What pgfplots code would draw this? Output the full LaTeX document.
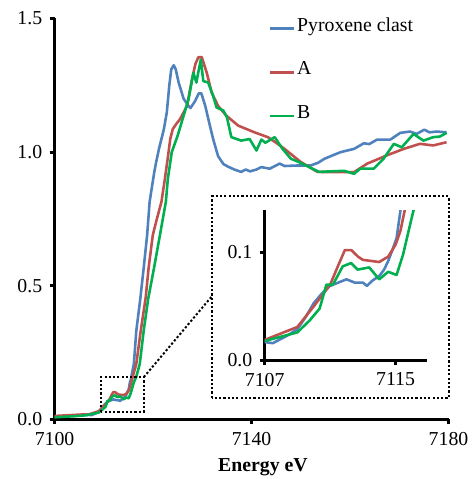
\documentclass[border=0pt]{standalone}
\usepackage{fontspec}
\setmainfont{Liberation Serif}
\usepackage{pgfplots}
\usepackage{pgfplotstable}
\pgfplotsset{compat=1.18}
\definecolor{cblue}{RGB}{79,129,189}
\definecolor{cred}{RGB}{192,80,77}
\definecolor{cgreen}{RGB}{0,176,80}

\pgfplotstableread{
E y
7100 0.010
7102 0.012
7104 0.014
7106 0.016
7107 0.017
7107.5 0.016
7108 0.020
7108.5 0.024
7109 0.029
7109.5 0.040
7110 0.053
7110.5 0.062
7111 0.069
7111.5 0.072
7112 0.075
7112.5 0.072
7113 0.072
7113.25 0.069
7113.6 0.074
7114 0.078
7114.3 0.084
7114.55 0.092
7114.8 0.102
7115.06 0.113
7115.3 0.139
7115.45 0.146
7116.1 0.208
7116.6 0.332
7117.4 0.450
7118.1 0.567
7118.8 0.690
7119.3 0.814
7120.2 0.920
7120.6 0.960
7121.2 1.012
7122.2 1.086
7122.8 1.150
7123.3 1.250
7123.7 1.310
7124.2 1.325
7124.6 1.310
7125.2 1.260
7126.2 1.200
7127.2 1.173
7127.6 1.165
7128.5 1.190
7129.3 1.220
7129.8 1.220
7130.6 1.173
7131.4 1.110
7132.2 1.049
7133.2 0.985
7134.3 0.955
7135.3 0.945
7136.5 0.935
7137.9 0.926
7138.8 0.935
7139.7 0.928
7141 0.935
7142 0.944
7143.7 0.938
7145.7 0.957
7146.7 0.948
7149.4 0.950
7152 0.950
7153.5 0.960
7154.8 0.975
7156.5 0.988
7158.1 1.000
7160.8 1.012
7162.8 1.033
7163.9 1.030
7165.5 1.047
7168.2 1.047
7170.2 1.072
7172.2 1.077
7173.5 1.068
7175.1 1.084
7176.1 1.074
7177.6 1.077
7179.6 1.074
}\tblP

\pgfplotstableread{
E y
7100 0.013
7102 0.015
7104 0.017
7106 0.019
7107 0.019
7108 0.025
7109 0.031
7110 0.050
7111 0.070
7111.5 0.088
7111.9 0.102
7112.3 0.102
7112.7 0.096
7113.0 0.093
7114.0 0.091
7114.55 0.096
7115.0 0.107
7115.3 0.120
7115.56 0.139
7116.6 0.208
7117.5 0.332
7118.5 0.455
7119.1 0.567
7119.95 0.690
7120.8 0.752
7121.7 0.814
7122.4 0.900
7123.0 0.980
7123.5 1.050
7124.0 1.086
7124.7 1.105
7125.5 1.124
7126.9 1.173
7127.9 1.272
7128.6 1.330
7129.2 1.355
7129.9 1.355
7130.9 1.297
7131.9 1.223
7133.2 1.173
7134.9 1.136
7137.3 1.099
7140.6 1.074
7143.3 1.056
7145 1.035
7146.7 1.012
7150.0 0.963
7153.4 0.926
7157 0.925
7160.8 0.925
7163.5 0.957
7167.5 0.988
7170.9 1.012
7174.2 1.031
7176.9 1.025
7179.6 1.037
}\tblA

\pgfplotstableread{
E y
7100 0.008
7102 0.010
7104 0.012
7106 0.015
7107 0.018
7108 0.022
7109 0.026
7109.75 0.037
7110.36 0.048
7110.77 0.070
7111.17 0.070
7111.77 0.087
7112.28 0.090
7112.68 0.084
7113.39 0.086
7114.0 0.075
7114.55 0.082
7115.06 0.079
7115.46 0.098
7115.8 0.120
7116.1 0.139
7116.6 0.160
7117.3 0.208
7118.1 0.332
7119.0 0.450
7120.2 0.567
7121.4 0.690
7122.6 0.814
7123.0 0.900
7123.3 0.937
7123.8 1.000
7125.0 1.062
7126.2 1.136
7127.2 1.198
7128.2 1.297
7128.8 1.260
7129.2 1.300
7129.7 1.346
7130.2 1.266
7131.2 1.260
7132.2 1.210
7132.9 1.167
7134.3 1.155
7135.0 1.130
7135.9 1.056
7137.9 1.043
7139.6 1.049
7141.0 1.006
7142.0 1.047
7142.8 1.035
7144.7 1.056
7146.3 1.012
7148.0 0.975
7149.6 0.963
7151.7 0.944
7153.7 0.926
7156 0.928
7158.8 0.930
7160.8 0.919
7162.1 0.938
7164.8 0.938
7166.8 0.975
7168.9 1.031
7170.5 1.018
7172.9 1.068
7174.9 1.043
7176.9 1.056
7178.2 1.058
7179.6 1.072
}\tblB

\begin{document}
\begin{tikzpicture}
\pgfplotsset{
  myax/.style={
    scale only axis,
    axis lines=left,
    axis line style={-, line width=3bp, black},
    tick align=outside,
    major tick length=5bp,
    tick style={line width=3bp, black},
    tick label style={font=\fontsize{20}{24}\selectfont, black},
    xticklabel style={yshift=-4bp},
    yticklabel style={xshift=-4bp},
    every axis plot/.append style={line width=2.6bp, no markers, line join=round},
  }
}
\begin{axis}[myax, name=main,
  width=397bp, height=404.1bp,
  xmin=7100, xmax=7180, ymin=0, ymax=1.5,
  xtick={7100,7140,7180}, xticklabels={7100,7140,7180},
  ytick={0,0.5,1,1.5}, yticklabels={0.0,0.5,1.0,1.5},
  xlabel={\bfseries Energy eV},
  xlabel style={font=\fontsize{20}{24}\selectfont, at={(axis description cs:0.5,0)}, anchor=base, yshift=-52.3bp, xshift=11.5bp},
  legend style={at={(0.5433,1)}, anchor=north west, yshift=-3.2bp, draw=none, fill=none, inner sep=0pt,
    font=\fontsize{20}{24}\selectfont, row sep=30bp,
    nodes={inner sep=2bp, text depth=0.25em, text height=0.75em}},
  legend cell align=left,
  legend image code/.code={\draw[#1] (0bp,0bp) -- (24bp,0bp);},
]
\addplot[cblue] table[x=E,y=y] {\tblP};
\addplot[cred] table[x=E,y=y] {\tblA};
\addplot[cgreen] table[x=E,y=y] {\tblB};
\legend{Pyroxene clast, A, B}
\draw[black, line width=2bp, dash pattern=on 2.2bp off 2.1bp] (axis cs:7109.4,0.029) rectangle (axis cs:7118.1,0.159);
\end{axis}
\draw[black, line width=2bp, dash pattern=on 2.2bp off 2.1bp] (159bp,21.7bp) rectangle (397bp,224.7bp);
\draw[black, line width=2bp, dash pattern=on 2.2bp off 2.1bp] (90bp,42.7bp) -- (159bp,124.7bp);
\begin{axis}[myax, name=inset, at={(211.7bp,59.4bp)}, anchor=south west,
  width=163.3bp, height=151.6bp,
  xmin=7107, xmax=7116.9, ymin=0, ymax=0.139,
  xtick={7107,7115}, xticklabels={7107,7115},
  ytick={0,0.1}, yticklabels={0.0,0.1},
]
\addplot[cblue] table[x=E,y=y] {\tblP};
\addplot[cred] table[x=E,y=y] {\tblA};
\addplot[cgreen] table[x=E,y=y] {\tblB};
\end{axis}
\path (-55bp,-56.3bp) rectangle (418bp,422.7bp);
\end{tikzpicture}
\end{document}
